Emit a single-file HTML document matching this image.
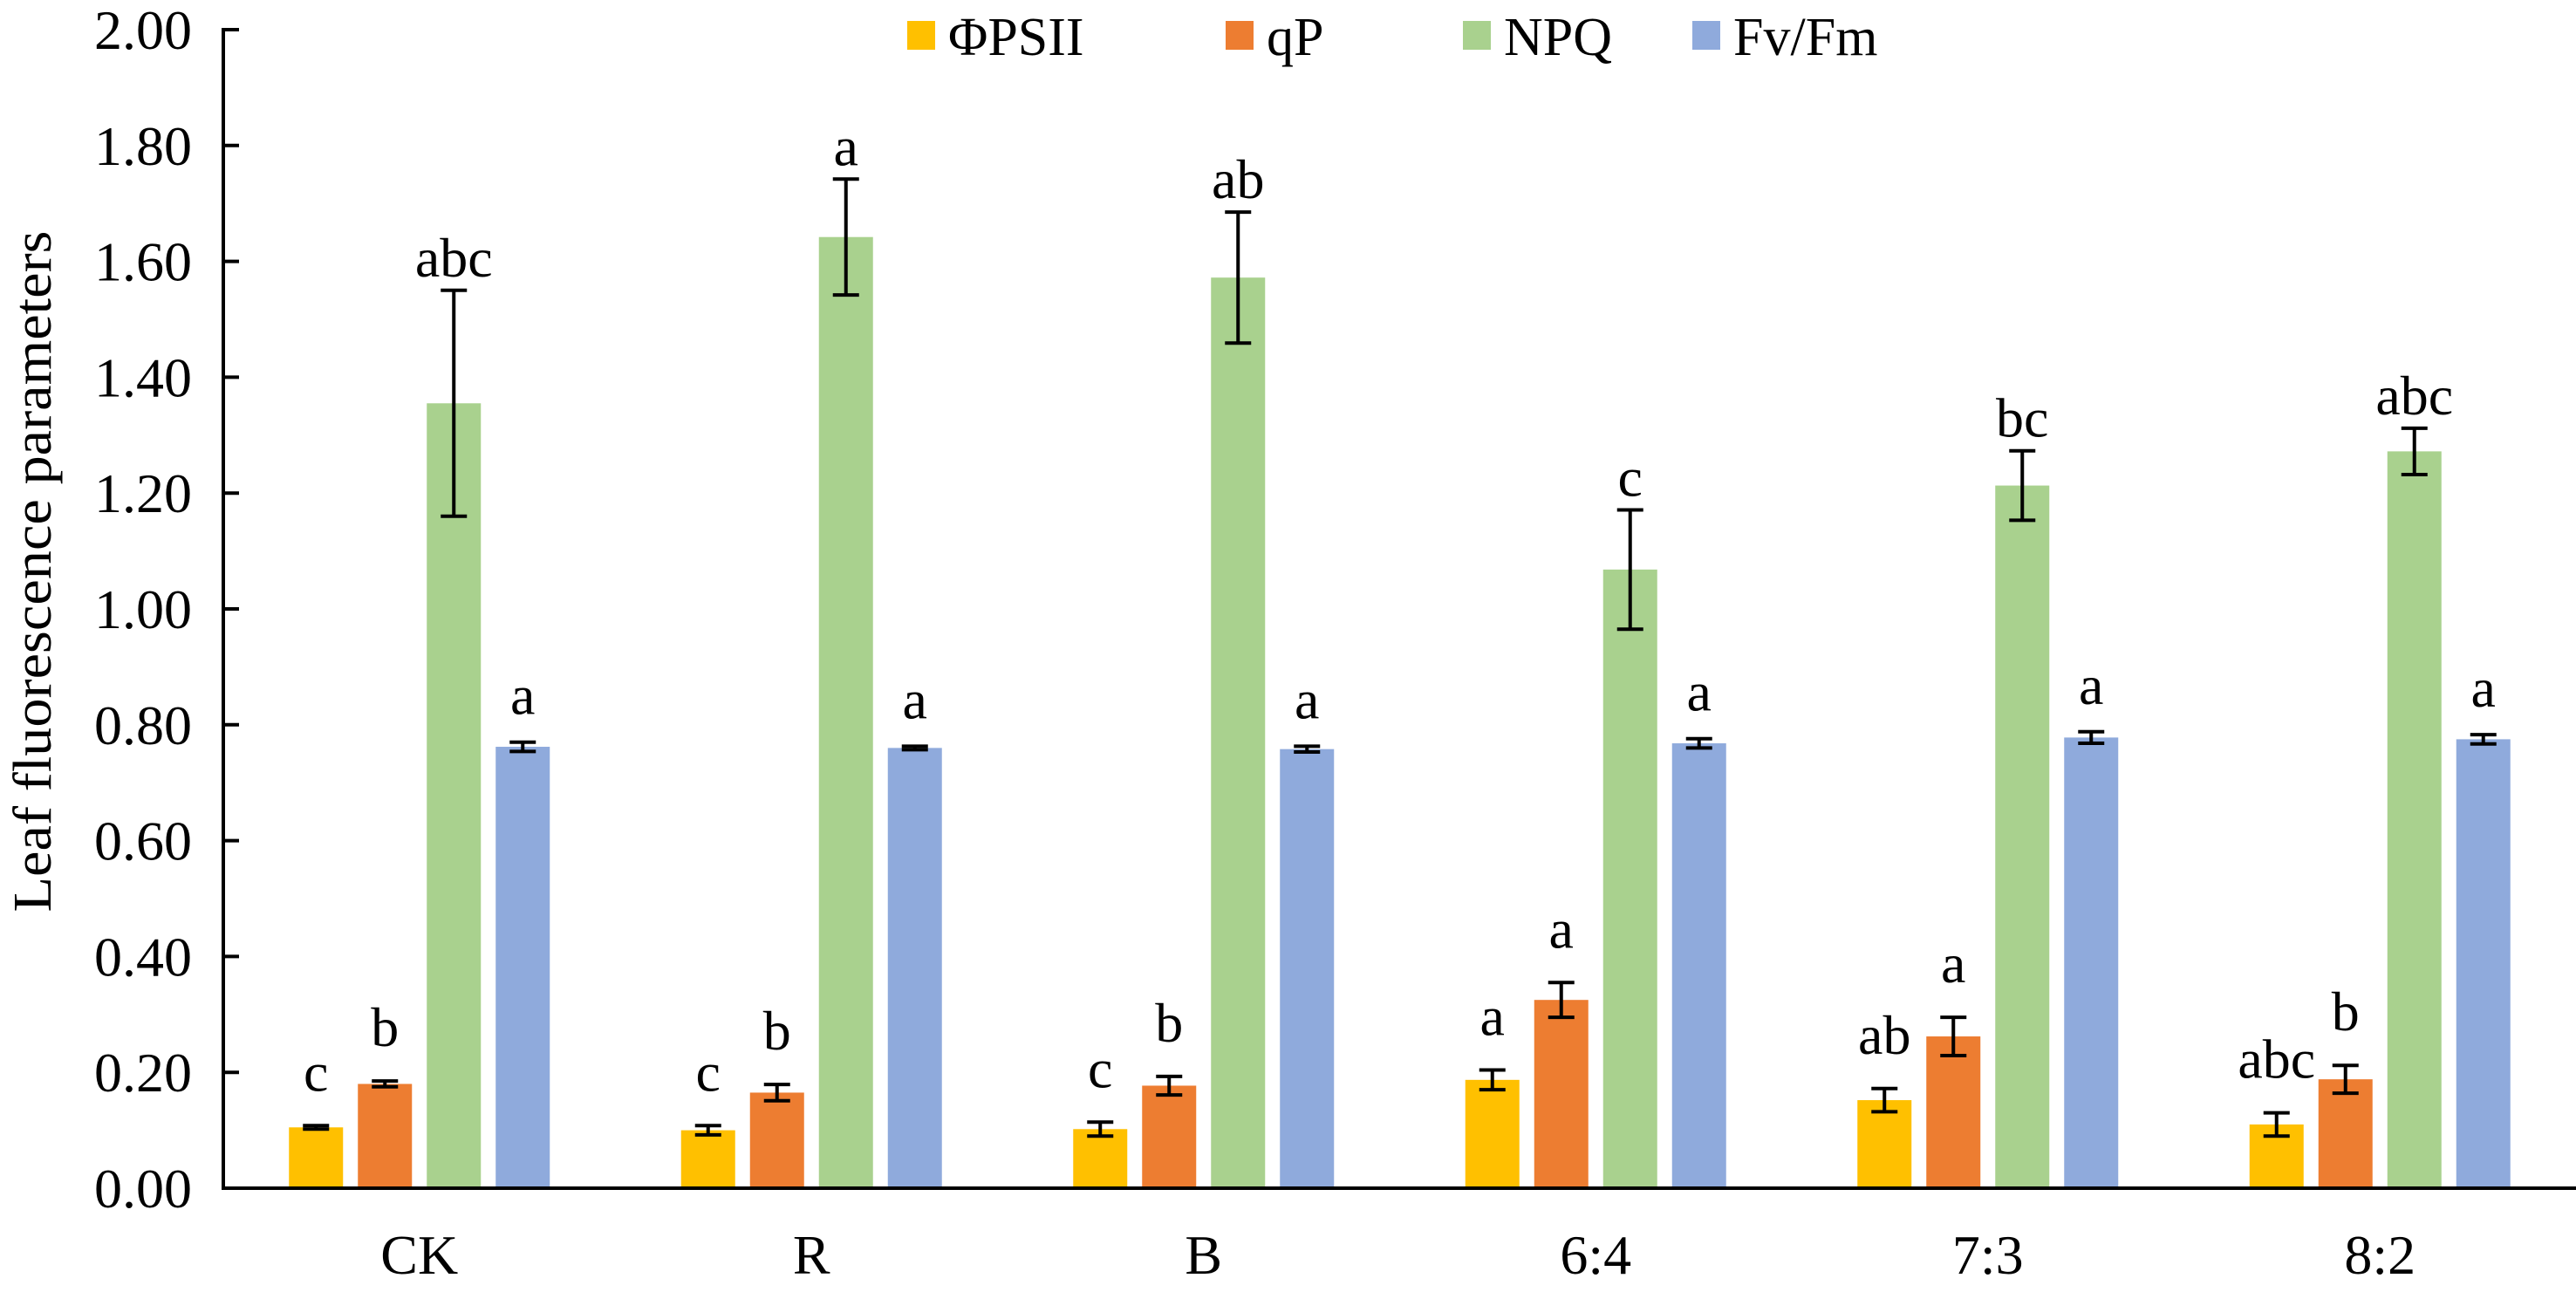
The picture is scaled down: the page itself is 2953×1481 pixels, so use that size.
<!DOCTYPE html>
<html><head><meta charset="utf-8"><style>
html,body{margin:0;padding:0;background:#fff;}
svg{display:block;}
text{font-family:"Liberation Serif","Times New Roman",serif;}
</style></head><body>
<svg id="chart" width="2953" height="1481" viewBox="0 0 2953 1481" xmlns="http://www.w3.org/2000/svg" font-family="Liberation Serif, serif">
<rect width="2953" height="1481" fill="#fff"/>
<g id="legend"></g>
<g id="bars"></g>
<g id="axes"></g>
<text transform="translate(58,655) rotate(-90)" text-anchor="middle" font-size="62" textLength="781" lengthAdjust="spacingAndGlyphs">Leaf fluorescence parameters</text>
</svg>
<script>
const categories = ["CK","R","B","6:4","7:3","8:2"];
const seriesNames = ["ΦPSII","qP","NPQ","Fv/Fm"];
const seriesColors = ["#FFC000","#ED7D31","#A9D18E","#8FAADC"];
const phiPSII = [0.105,0.100,0.102,0.187,0.152,0.110];
const qP = [0.180,0.165,0.177,0.325,0.262,0.188];
const NPQ = [1.355,1.642,1.572,1.068,1.213,1.272];
const FvFm = [0.762,0.760,0.758,0.768,0.778,0.775];
const errPhi = [0.003,0.008,0.012,0.017,0.020,0.020];
const errQP = [0.005,0.014,0.016,0.030,0.033,0.024];
const errNPQ = [0.195,0.100,0.113,0.103,0.060,0.040];
const errFv = [0.008,0.003,0.005,0.008,0.010,0.008];
const lettersPhi = ["c","c","c","a","ab","abc"];
const lettersQP = ["b","b","b","a","a","b"];
const lettersNPQ = ["abc","a","ab","c","bc","abc"];
const lettersFv = ["a","a","a","a","a","a"];
const yTicks = [0,0.2,0.4,0.6,0.8,1.0,1.2,1.4,1.6,1.8,2.0];

const NS="http://www.w3.org/2000/svg";
const X0=256, X1=2953, Y0=1362, Y1=34, YMAX=2.0;
const catW=(X1-X0)/categories.length, barW=62, pitch=79;
const labelGap=[40,40,16,32];
function yScale(v){return Y0-(v/YMAX)*(Y0-Y1);}
function xBar(ci,si){return X0+catW*(ci+0.5)+(si-1.5)*pitch;}
function mk(tag,attrs,parent){const e=document.createElementNS(NS,tag);for(const k in attrs)e.setAttribute(k,attrs[k]);parent.appendChild(e);return e;}

const series=[phiPSII,qP,NPQ,FvFm], errs=[errPhi,errQP,errNPQ,errFv], lets=[lettersPhi,lettersQP,lettersNPQ,lettersFv];
const gB=document.getElementById('bars');
for(let s=0;s<4;s++){for(let c=0;c<categories.length;c++){
  const v=series[s][c], e=errs[s][c], cx=xBar(c,s);
  const r=mk('rect',{x:cx-barW/2,y:yScale(v),width:barW,height:Y0-yScale(v),fill:seriesColors[s]},gB);
  
  
  const eg=mk('g',{stroke:'#000','stroke-width':4},gB);
  
  
  mk('line',{x1:cx,x2:cx,y1:yScale(v+e),y2:yScale(v-e)},eg);
  mk('line',{x1:cx-15,x2:cx+15,y1:yScale(v+e),y2:yScale(v+e)},eg);
  mk('line',{x1:cx-15,x2:cx+15,y1:yScale(v-e),y2:yScale(v-e)},eg);
  const t=mk('text',{x:cx,y:yScale(v+e)-labelGap[s],'text-anchor':'middle','font-size':64},gB);
  t.textContent=lets[s][c];
  
  
}}

const gA=document.getElementById('axes');
const ya=mk('line',{x1:X0,x2:X0,y1:Y1-2,y2:Y0+2,stroke:'#000','stroke-width':4},gA);


const xa=mk('line',{x1:X0-2,x2:X1,y1:Y0,y2:Y0,stroke:'#000','stroke-width':4},gA);


yTicks.forEach(v=>{
  const tk=mk('line',{x1:X0,x2:X0+18,y1:yScale(v),y2:yScale(v),stroke:'#000','stroke-width':4},gA);
  
  
  const t=mk('text',{x:220,y:yScale(v)+22,'text-anchor':'end','font-size':64},gA);
  t.textContent=v.toFixed(2);
  
  
});
categories.forEach((c,i)=>{
  const t=mk('text',{x:X0+catW*(i+0.5),y:1460,'text-anchor':'middle','font-size':64},gA);
  t.textContent=c;
  
  
});

const gL=document.getElementById('legend');
const legX=[1040,1405,1677,1940];
seriesNames.forEach((n,i)=>{
  const g=mk('g',{},gL);
  
  
  mk('rect',{x:legX[i],y:24,width:32,height:33,fill:seriesColors[i]},g);
  const t=mk('text',{x:legX[i]+47,y:63,'font-size':62},g);
  t.textContent=n;
});
</script>
</body></html>
